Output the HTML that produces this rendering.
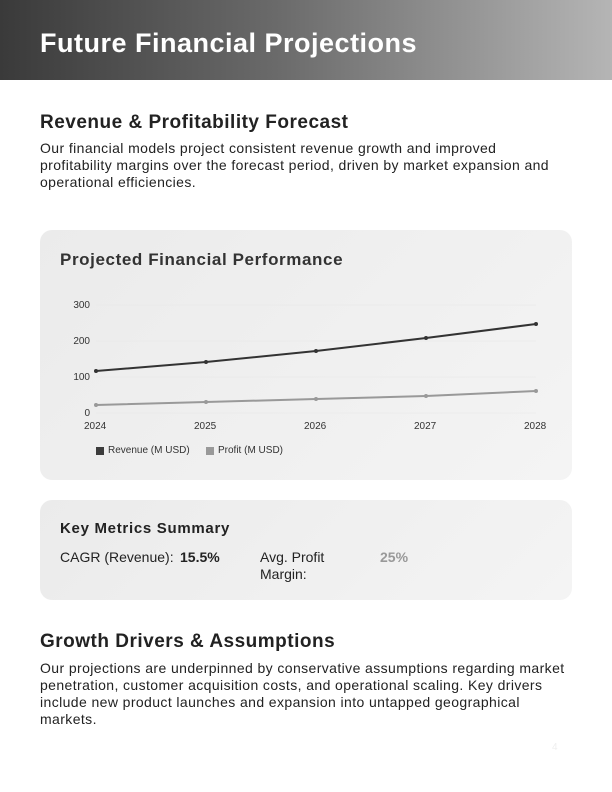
<!DOCTYPE html>
<html><head><meta charset="utf-8"><style>
*{margin:0;padding:0;box-sizing:border-box}
body{width:612px;height:792px;background:#fff;font-family:"Liberation Sans",sans-serif;position:relative;overflow:hidden;color:#222}
.hdr{position:absolute;left:0;top:0;width:612px;height:80px;background:linear-gradient(90deg,#3a3a3a 0%,#6a6a6a 45%,#b5b5b5 100%)}
.hdr h1{position:absolute;left:40px;top:28px;font-size:27px;color:#fff;font-weight:bold;letter-spacing:0.5px}
h2{position:absolute;left:40px;font-size:19px;font-weight:bold;color:#222;letter-spacing:0.5px}
p{position:absolute;left:40px;width:535px;font-size:14px;line-height:17px;color:#222;letter-spacing:0.4px}
.card{position:absolute;left:40px;width:532px;border-radius:12px;background:linear-gradient(135deg,#ebebeb,#f4f4f4)}
.t{position:absolute;font-size:10px;color:#333}
</style></head><body>
<div class="hdr"><h1>Future Financial Projections</h1></div>
<h2 style="top:112px">Revenue &amp; Profitability Forecast</h2>
<p style="top:140px;width:525px">Our financial models project consistent revenue growth and improved profitability margins over the forecast period, driven by market expansion and operational efficiencies.</p>
<div class="card" style="top:230px;height:250px">
<div style="position:absolute;left:20px;top:20px;font-size:17px;font-weight:bold;color:#333;letter-spacing:0.6px">Projected Financial Performance</div>
</div>
<svg style="position:absolute;left:0;top:0" width="612" height="792">
<g stroke="#e6e6e6" stroke-width="0.5"><line x1="96" y1="305" x2="536" y2="305"/><line x1="96" y1="341" x2="536" y2="341"/><line x1="96" y1="377" x2="536" y2="377"/><line x1="96" y1="413" x2="536" y2="413"/></g>
<polyline fill="none" stroke="#999" stroke-width="2" points="96,405 206,402 316,399 426,396 536,391"/>
<g fill="#999"><circle cx="96" cy="405" r="2"/><circle cx="206" cy="402" r="2"/><circle cx="316" cy="399" r="2"/><circle cx="426" cy="396" r="2"/><circle cx="536" cy="391" r="2"/></g>
<polyline fill="none" stroke="#333" stroke-width="2" points="96,371 206,362 316,351 426,338 536,324"/>
<g fill="#333"><circle cx="96" cy="371" r="2"/><circle cx="206" cy="362" r="2"/><circle cx="316" cy="351" r="2"/><circle cx="426" cy="338" r="2"/><circle cx="536" cy="324" r="2"/></g>
<rect x="96" y="447" width="8" height="8" fill="#3c3c3c"/><rect x="206" y="447" width="8" height="8" fill="#999"/>
</svg>
<div class="t" style="left:70px;top:300px;width:20px;text-align:right">300</div>
<div class="t" style="left:70px;top:336px;width:20px;text-align:right">200</div>
<div class="t" style="left:70px;top:372px;width:20px;text-align:right">100</div>
<div class="t" style="left:70px;top:408px;width:20px;text-align:right">0</div>
<div class="t" style="left:84px;top:421px">2024</div>
<div class="t" style="left:194px;top:421px">2025</div>
<div class="t" style="left:304px;top:421px">2026</div>
<div class="t" style="left:414px;top:421px">2027</div>
<div class="t" style="left:524px;top:421px">2028</div>
<div class="t" style="left:108px;top:445px">Revenue (M USD)</div>
<div class="t" style="left:218px;top:445px">Profit (M USD)</div>
<div class="card" style="top:500px;height:100px">
<div style="position:absolute;left:20px;top:20px;font-size:15px;font-weight:bold;color:#222;letter-spacing:0.7px">Key Metrics Summary</div>
<div style="position:absolute;left:20px;top:49px;font-size:14px">CAGR (Revenue):</div>
<div style="position:absolute;left:140px;top:49px;font-size:14px;font-weight:bold">15.5%</div>
<div style="position:absolute;left:220px;top:49px;font-size:14px;line-height:17px">Avg. Profit<br>Margin:</div>
<div style="position:absolute;left:340px;top:49px;font-size:14px;font-weight:bold;color:#999">25%</div>
</div>
<h2 style="top:631px">Growth Drivers &amp; Assumptions</h2>
<p style="top:660px;width:530px">Our projections are underpinned by conservative assumptions regarding market penetration, customer acquisition costs, and operational scaling. Key drivers include new product launches and expansion into untapped geographical markets.</p>
<div style="position:absolute;left:552px;top:742px;font-size:10px;color:#eee">4</div>
</body></html>
